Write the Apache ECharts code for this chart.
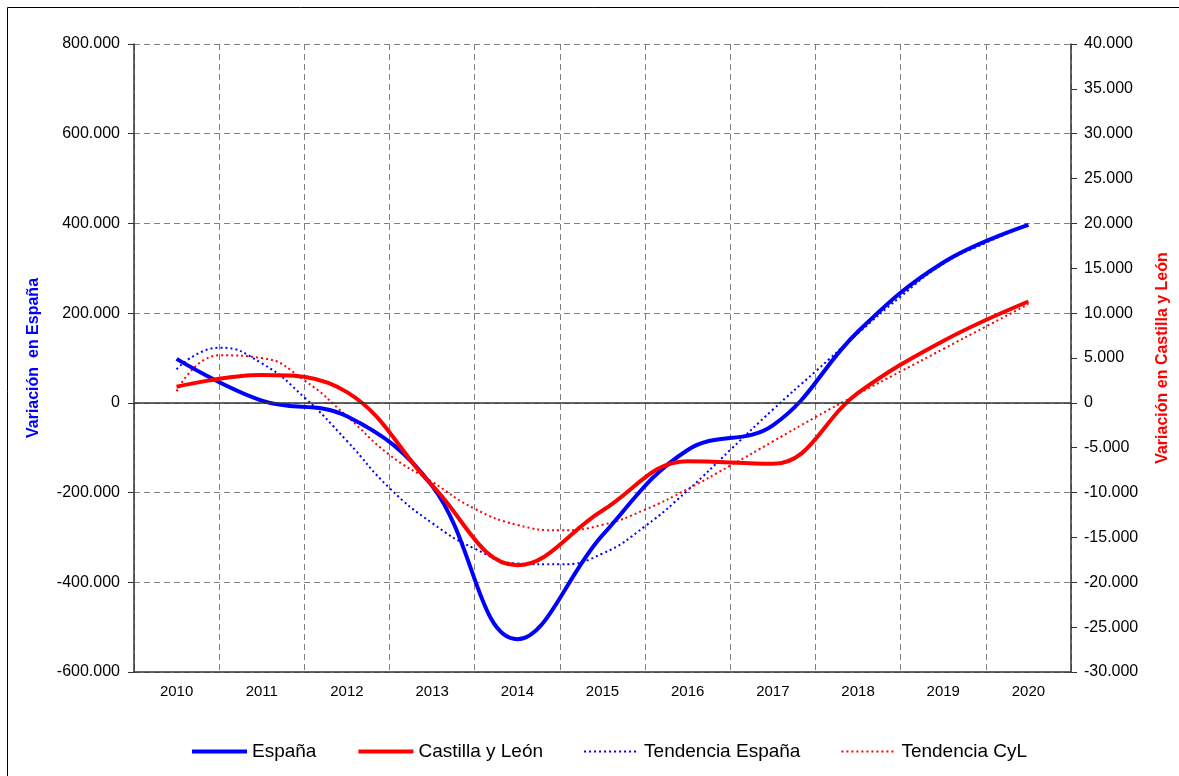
<!DOCTYPE html>
<html>
<head>
<meta charset="utf-8">
<script src="https://cdn.jsdelivr.net/npm/echarts@6/dist/echarts.min.js"></script>
<style>
  html, body { margin: 0; padding: 0; background: #fff; }
  #main { width: 1179px; height: 776px; }
</style>
</head>
<body>
<div id="main"></div>
<script>
// datos
var years = ['2010', '2011', '2012', '2013', '2014', '2015', '2016', '2017', '2018', '2019', '2020'];
var espana = [98000, 5000, -30000, -185000, -527000, -295000, -105000, -50000, 159000, 313000, 397000];
var cyl = [1800, 3100, 1200, -9200, -18100, -12000, -6500, -6800, 1100, 6900, 11300];

// tendencias, leídas cada medio año (posición en índice de categoría)
var trendPos = [0, 0.5, 1, 1.5, 2, 2.5, 3, 3.5, 4, 4.5, 5, 5.5, 6, 6.5, 7, 7.5, 8, 8.5, 9, 9.5, 10];
var trendEspana = [75000, 123000, 88000, 12000, -85000, -190000, -268000, -325000, -358000, -360000, -336000, -275000, -195000, -105000, -15000, 70000, 155000, 237000, 310000, 357000, 397000];
var trendCyl = [1300, 5300, 5000, 2500, -1500, -5800, -8800, -11800, -13600, -14200, -13600, -11900, -9600, -7000, -4300, -1600, 1000, 3500, 6000, 8500, 11000];

function pairs(xs, ys) {
    var out = [];
    for (var i = 0; i < xs.length; i++) out.push([xs[i], ys[i]]);
    return out;
}

function fmt(v) {
    if (v === 0) return '0';
    var s = String(Math.abs(v)).replace(/\B(?=(\d{3})+(?!\d))/g, '.');
    return (v < 0 ? '-' : '') + s;
}

var font = 'Arial, "Liberation Sans", sans-serif';

var myChart = echarts.init(document.getElementById('main'));
var option = {
    animation: false,
    backgroundColor: '#fff',
    textStyle: { fontFamily: font },
    graphic: [{
        type: 'polyline',
        shape: { points: [[7.5, 776], [7.5, 7.5], [1179, 7.5]] },
        style: { stroke: '#000', lineWidth: 1, fill: null }
    }],
    grid: { left: 134, right: 104, top: 44, bottom: 104 },
    legend: {
        bottom: 10,
        left: 185,
        itemWidth: 55,
        itemHeight: 14,
        itemGap: 40,
        itemStyle: { opacity: 0 },
        textStyle: { fontSize: 19, color: '#000', fontFamily: font },
        data: [
            { name: 'España', lineStyle: { width: 4 } },
            { name: 'Castilla y León', lineStyle: { width: 4 } },
            { name: 'Tendencia España', lineStyle: { width: 2 } },
            { name: 'Tendencia CyL', lineStyle: { width: 2 } }
        ]
    },
    xAxis: [{
        type: 'category',
        data: years,
        boundaryGap: true,
        axisLine: { onZero: false, lineStyle: { color: '#333', width: 1.5 } },
        axisTick: { length: 5, lineStyle: { color: '#333' } },
        axisLabel: { color: '#000', fontSize: 15, margin: 12 },
        splitLine: { show: true, lineStyle: { color: '#808080', type: [6, 4], width: 1 } }
    }, {
        type: 'value',
        min: -0.5,
        max: 10.5,
        show: false
    }],
    yAxis: [{
        type: 'value',
        min: -600000,
        max: 800000,
        interval: 200000,
        name: 'Variación  en España',
        nameLocation: 'middle',
        nameGap: 92,
        nameTextStyle: { color: '#0000FF', fontSize: 16, fontWeight: 'bold' },
        axisLine: { show: true, onZero: false, lineStyle: { color: '#333', width: 1.5 } },
        axisTick: { show: true, length: 6, lineStyle: { color: '#333' } },
        axisLabel: { color: '#000', fontSize: 16, margin: 14, formatter: fmt },
        splitLine: { show: true, lineStyle: { color: '#808080', type: [6, 4], width: 1 } }
    }, {
        type: 'value',
        position: 'right',
        min: -30000,
        max: 40000,
        interval: 5000,
        name: 'Variación en Castilla y León',
        nameLocation: 'middle',
        nameGap: 84,
        nameRotate: 90,
        nameTextStyle: { color: '#FF0000', fontSize: 16, fontWeight: 'bold' },
        axisLine: { show: true, onZero: false, lineStyle: { color: '#333', width: 1.5 } },
        axisTick: { show: true, length: 6, lineStyle: { color: '#333' } },
        axisLabel: { color: '#000', fontSize: 16, margin: 13, formatter: fmt },
        splitLine: { show: false }
    }],
    series: [{
        name: 'Tendencia España',
        type: 'line',
        xAxisIndex: 1,
        yAxisIndex: 0,
        data: pairs(trendPos, trendEspana),
        smooth: true,
        symbol: 'none',
        lineStyle: { color: '#0000FF', width: 2, type: [2, 3] },
        itemStyle: { color: '#0000FF' }
    }, {
        name: 'Tendencia CyL',
        type: 'line',
        xAxisIndex: 1,
        yAxisIndex: 1,
        data: pairs(trendPos, trendCyl),
        smooth: true,
        symbol: 'none',
        lineStyle: { color: '#FF0000', width: 2, type: [2, 3] },
        itemStyle: { color: '#FF0000' }
    }, {
        name: 'España',
        type: 'line',
        xAxisIndex: 0,
        yAxisIndex: 0,
        data: espana,
        smooth: 0.4,
        symbol: 'none',
        lineStyle: { color: '#0000FF', width: 4 },
        itemStyle: { color: '#0000FF' },
        markLine: {
            silent: true,
            symbol: 'none',
            label: { show: false },
            lineStyle: { color: '#333', type: 'solid', width: 1.5 },
            data: [{ yAxis: 0 }]
        }
    }, {
        name: 'Castilla y León',
        type: 'line',
        xAxisIndex: 0,
        yAxisIndex: 1,
        data: cyl,
        smooth: 0.4,
        symbol: 'none',
        lineStyle: { color: '#FF0000', width: 4 },
        itemStyle: { color: '#FF0000' }
    }]
};
myChart.setOption(option);
</script>
</body>
</html>
